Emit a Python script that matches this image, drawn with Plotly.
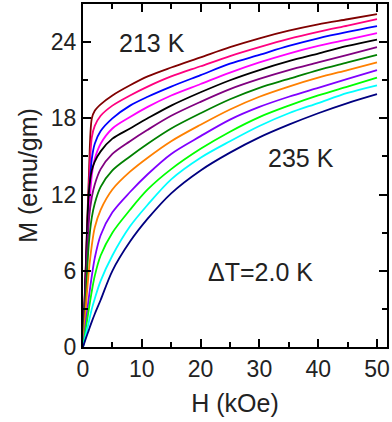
import plotly.graph_objects as go

H = [0, 0.5, 1, 1.5, 2, 3, 5, 8, 11, 15, 20, 25, 30, 35, 40, 45, 50]

temps = [213, 215, 217, 219, 221, 223, 225, 227, 229, 231, 233, 235]
colors = ["#800000", "#FF0080", "#0000FF", "#FF00FF", "#000000", "#800080",
          "#008000", "#FF8000", "#8000FF", "#00FF00", "#00FFFF", "#000080"]

M_213 = [0, 6.7, 13.5, 18.0, 18.6, 19.1, 19.8, 20.6, 21.3, 22.0, 22.8, 23.6, 24.3, 24.9, 25.4, 25.8, 26.2]
M_215 = [0, 6.3, 12.5, 16.5, 17.4, 18.2, 19.0, 19.8, 20.5, 21.3, 22.1, 22.9, 23.6, 24.25, 24.8, 25.3, 25.8]
M_217 = [0, 5.8, 11.5, 14.8, 16.0, 17.0, 18.0, 19.0, 19.7, 20.5, 21.4, 22.3, 23.0, 23.7, 24.3, 24.8, 25.25]
M_219 = [0, 5.2, 10.3, 13.5, 14.8, 16.0, 17.2, 18.1, 18.9, 19.8, 20.7, 21.6, 22.4, 23.1, 23.7, 24.2, 24.7]
M_221 = [0, 6.5, 12.2, 13.9, 14.6, 15.4, 16.4, 17.2, 18.0, 19.0, 20.05, 21.0, 21.8, 22.5, 23.1, 23.7, 24.2]
M_223 = [0, 5.5, 10.0, 11.8, 12.8, 14.0, 15.2, 16.2, 17.1, 18.2, 19.3, 20.3, 21.1, 21.8, 22.4, 23.0, 23.6]
M_225 = [0, 4.2, 8.2, 10.2, 11.3, 12.6, 13.9, 15.0, 16.0, 17.2, 18.4, 19.5, 20.4, 21.1, 21.8, 22.4, 23.0]
M_227 = [0, 3.2, 6.0, 8.0, 9.4, 10.8, 12.4, 13.8, 14.9, 16.2, 17.5, 18.7, 19.7, 20.5, 21.2, 21.8, 22.4]
M_229 = [0, 2.0, 3.9, 5.6, 7.0, 8.8, 10.6, 12.2, 13.6, 15.2, 16.6, 17.9, 18.9, 19.7, 20.4, 21.1, 21.8]
M_231 = [0, 1.5, 3.0, 4.4, 5.6, 7.2, 9.0, 10.8, 12.4, 14.0, 15.6, 16.95, 18.1, 19.0, 19.8, 20.5, 21.2]
M_233 = [0, 1.0, 2.0, 3.0, 3.8, 5.2, 7.2, 9.5, 11.2, 13.2, 14.9, 16.2, 17.4, 18.4, 19.2, 20.0, 20.6]
M_235 = [0, 0.7, 1.35, 2.0, 2.6, 3.7, 6.0, 8.3, 10.1, 12.1, 13.9, 15.3, 16.5, 17.5, 18.4, 19.2, 19.9]

series = [M_213, M_215, M_217, M_219, M_221, M_223, M_225, M_227, M_229, M_231, M_233, M_235]

fig = go.Figure()
for t, c, m in zip(temps, colors, series):
    fig.add_trace(go.Scatter(x=H, y=m, mode="lines", name=f"{t} K",
                             line=dict(color=c, width=1.8, shape="spline", smoothing=0.9),
                             showlegend=False))

font = "Liberation Sans, Arial, sans-serif"
axis_common = dict(showline=True, linewidth=2, linecolor="black", mirror="allticks",
                   ticks="inside", ticklen=8, tickwidth=2, tickcolor="black",
                   showgrid=False, zeroline=False,
                   tickfont=dict(family=font, size=23, color="#222"))

fig.update_xaxes(range=[0, 51.7], dtick=10, tick0=0,
                 minor=dict(dtick=5, ticks="inside", ticklen=5, tickwidth=2, tickcolor="black"),
                 title=dict(text="H (kOe)", font=dict(family=font, size=25, color="#222"), standoff=14),
                 **axis_common)
fig.update_yaxes(range=[0, 27], dtick=6, tick0=0,
                 minor=dict(dtick=3, ticks="inside", ticklen=5, tickwidth=2, tickcolor="black"),
                 title=dict(text="M (emu/gm)", font=dict(family=font, size=25, color="#222"), standoff=6),
                 **axis_common)

ann_font = dict(family=font, size=25, color="#222")
fig.add_annotation(x=11.8, y=23.9, text="213 K", showarrow=False, font=ann_font)
fig.add_annotation(x=37, y=14.9, text="235 K", showarrow=False, font=ann_font)
fig.add_annotation(x=30.2, y=5.9, text="ΔT=2.0 K", showarrow=False, font=ann_font)

fig.update_layout(width=392, height=422, margin=dict(l=83, r=3, t=2, b=75),
                  plot_bgcolor="white", paper_bgcolor="white")

fig.write_html("out.html")
